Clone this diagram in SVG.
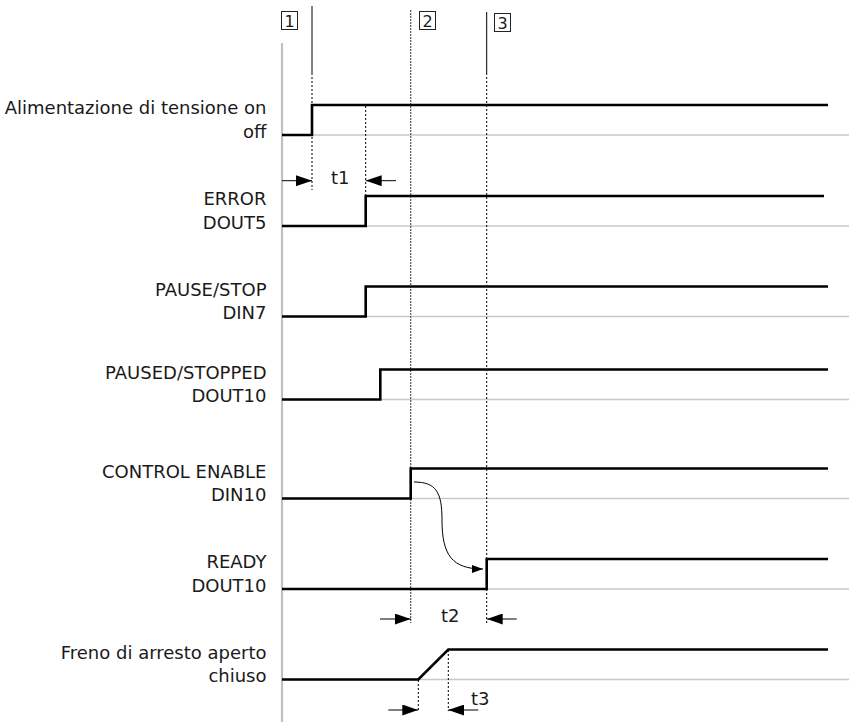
<svg xmlns="http://www.w3.org/2000/svg" width="849" height="728" viewBox="0 0 849 728">
<defs>
<style>
.lbl{font-family:"DejaVu Sans","Liberation Sans",sans-serif;font-size:18px;fill:#1a1a1a;text-anchor:end}
.t{font-family:"DejaVu Sans","Liberation Sans",sans-serif;font-size:18px;fill:#1a1a1a}
.num{font-family:"DejaVu Sans","Liberation Sans",sans-serif;font-size:16px;fill:#1a1a1a;text-anchor:middle}
.box{fill:#fff;stroke:#222;stroke-width:1}
.sig{fill:none;stroke:#000;stroke-width:2.6;stroke-linejoin:miter}
.base{stroke:#c8c8c8;stroke-width:1.5}
.axis{stroke:#c0c0c0;stroke-width:2.2}
.solid{stroke:#000;stroke-width:1}
.dot{stroke:#000;stroke-width:1;stroke-dasharray:2,2}
.dense{stroke:#555;stroke-width:1.2;stroke-dasharray:2,1}
.dim{stroke:#000;stroke-width:1;fill:none}
</style>
<marker id="ah" viewBox="0 0 16 11" refX="16" refY="5.5" markerWidth="16" markerHeight="11" markerUnits="userSpaceOnUse" orient="auto">
<path d="M0,0 L16,5.5 L0,11 Z" fill="#000"/>
</marker>
<marker id="ahs" viewBox="0 0 11 8" refX="11" refY="4" markerWidth="11" markerHeight="8" markerUnits="userSpaceOnUse" orient="auto">
<path d="M0,0 L11,4 L0,8 Z" fill="#000"/>
</marker>
</defs>
<rect width="849" height="728" fill="#fff"/>

<g id="grid">
<line class="axis" x1="282" y1="43" x2="282" y2="722"/>
<line class="base" x1="282" y1="135" x2="849" y2="135"/>
<line class="base" x1="282" y1="226" x2="849" y2="226"/>
<line class="base" x1="282" y1="316.5" x2="849" y2="316.5"/>
<line class="base" x1="282" y1="399.5" x2="849" y2="399.5"/>
<line class="base" x1="282" y1="498.5" x2="849" y2="498.5"/>
<line class="base" x1="282" y1="589" x2="849" y2="589"/>
<line class="base" x1="282" y1="679.5" x2="849" y2="679.5"/>
</g>

<g id="markers">
<g id="m1">
<rect class="box" x="281.5" y="11.5" width="16" height="18"/>
<text class="num" x="289.5" y="26.5">1</text>
<line class="solid" x1="312" y1="6" x2="312" y2="73"/>
<line class="dot" x1="312" y1="73" x2="312" y2="190"/>
</g>
<g id="m2">
<rect class="box" x="419.5" y="11.5" width="16" height="18"/>
<text class="num" x="427.5" y="26.5">2</text>
<line class="dense" x1="410.7" y1="10" x2="410.7" y2="623"/>
</g>
<g id="m3">
<rect class="box" x="494.5" y="13.5" width="16" height="18"/>
<text class="num" x="502.5" y="28.5">3</text>
<line class="solid" x1="486.7" y1="12" x2="486.7" y2="73"/>
<line class="dot" x1="486.7" y1="73" x2="486.7" y2="623"/>
</g>
<line class="dot" x1="365.7" y1="106" x2="365.7" y2="195"/>
</g>

<g id="s1">
<text class="lbl" x="266.5" y="114">Alimentazione di tensione on</text>
<text class="lbl" x="266.5" y="137.5">off</text>
<path class="sig" d="M282,135 H312 V105 H828"/>
</g>
<g id="s2">
<text class="lbl" x="266.5" y="205">ERROR</text>
<text class="lbl" x="266.5" y="228.5">DOUT5</text>
<path class="sig" d="M282,226 H365.7 V196 H824"/>
</g>
<g id="s3">
<text class="lbl" x="266.5" y="295.5">PAUSE/STOP</text>
<text class="lbl" x="266.5" y="319">DIN7</text>
<path class="sig" d="M282,316.5 H365.7 V286.5 H828"/>
</g>
<g id="s4">
<text class="lbl" x="266.5" y="378.5">PAUSED/STOPPED</text>
<text class="lbl" x="266.5" y="402">DOUT10</text>
<path class="sig" d="M282,399.5 H380.3 V369.5 H828"/>
</g>
<g id="s5">
<text class="lbl" x="266.5" y="477.5">CONTROL ENABLE</text>
<text class="lbl" x="266.5" y="501">DIN10</text>
<path class="sig" d="M282,498.5 H410.7 V468.5 H828"/>
</g>
<g id="s6">
<text class="lbl" x="266.5" y="568">READY</text>
<text class="lbl" x="266.5" y="591.5">DOUT10</text>
<path class="sig" d="M282,589 H486.7 V559 H828"/>
</g>
<g id="s7">
<text class="lbl" x="266.5" y="658.5">Freno di arresto aperto</text>
<text class="lbl" x="266.5" y="682">chiuso</text>
<path class="sig" d="M282,679.5 H418.3 L448.3,649.5 H828"/>
</g>

<g id="connectors">
<path class="dim" d="M414,482 C436,482 442,492 442,520 C442,555 452,569 483,569" marker-end="url(#ahs)"/>
<line class="dim" x1="282" y1="180.7" x2="312" y2="180.7" marker-end="url(#ah)"/>
<line class="dim" x1="396" y1="180.7" x2="365.7" y2="180.7" marker-end="url(#ah)"/>
<text class="t" x="331" y="184">t1</text>
<line class="dim" x1="380" y1="619" x2="410.7" y2="619" marker-end="url(#ah)"/>
<line class="dim" x1="516.7" y1="619" x2="486.7" y2="619" marker-end="url(#ah)"/>
<text class="t" x="441" y="622">t2</text>
<line class="dot" x1="418.3" y1="680" x2="418.3" y2="711"/>
<line class="dot" x1="448.3" y1="650" x2="448.3" y2="711"/>
<line class="dim" x1="388.3" y1="710" x2="418.3" y2="710" marker-end="url(#ah)"/>
<line class="dim" x1="478.3" y1="710" x2="448.3" y2="710" marker-end="url(#ah)"/>
<text class="t" x="471" y="705">t3</text>
</g>
</svg>
